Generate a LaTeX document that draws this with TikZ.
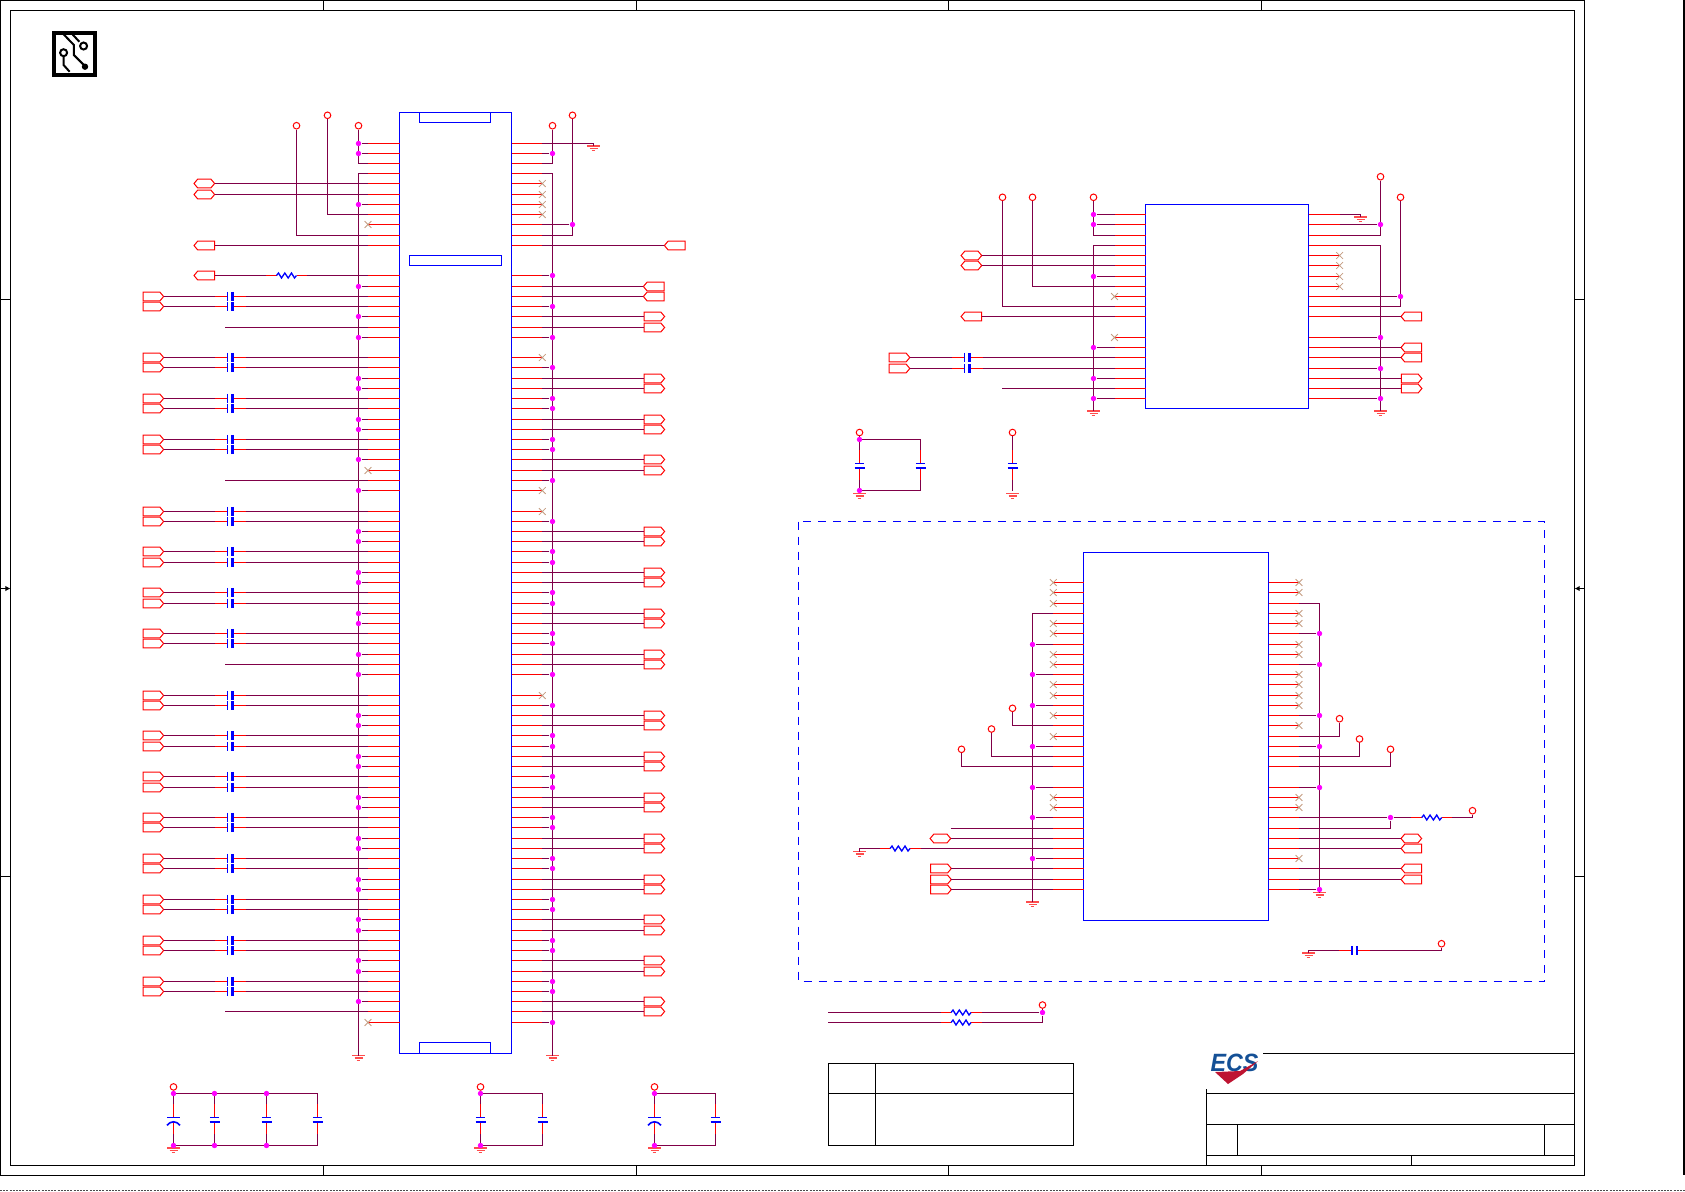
\documentclass[tikz,border=0pt]{standalone}
\usepackage{fontspec}
\setmainfont{Liberation Sans}
\usetikzlibrary{shapes.symbols,shapes.misc,calc,arrows.meta}

\definecolor{pinred}{RGB}{255,0,0}
\definecolor{wirepurple}{RGB}{128,0,72}
\definecolor{chipblue}{RGB}{0,0,255}
\definecolor{dotmagenta}{RGB}{255,0,255}
\definecolor{nctan}{RGB}{196,156,128}
\definecolor{logoblue}{RGB}{20,80,150}
\definecolor{logored}{RGB}{190,20,50}

\tikzstyle{pinline}=[draw=pinred, line width=0.55pt]
\tikzstyle{wire}=[draw=wirepurple, line width=0.55pt]
\tikzstyle{chipbox}=[draw=chipblue, line width=0.65pt]
\tikzstyle{sheetline}=[draw=black, line width=0.7pt]
\tikzstyle{junction}=[circle, fill=dotmagenta, inner sep=0pt, minimum size=2.7pt]
\tikzstyle{powerpin}=[circle, draw=pinred, fill=white, line width=0.5pt, inner sep=0pt, minimum size=3.3pt]
\tikzstyle{ncmark}=[cross out, draw=nctan, line width=0.4pt, inner sep=0pt, minimum size=3pt]
\tikzstyle{tagbase}=[signal, draw=pinred, line width=0.5pt, inner sep=0pt, outer sep=0pt, minimum width=10.3pt, minimum height=4.3pt, signal pointer angle=100]
\tikzstyle{tagright}=[tagbase, signal to=east, anchor=west]
\tikzstyle{tagleft}=[tagbase, signal to=west, anchor=east]
\tikzstyle{taghex}=[tagbase, signal to=east and west, anchor=east]
\tikzstyle{arrowtick}=[draw=black, line width=0.7pt, -{Latex[length=2.6pt,width=2.8pt]}]

\tikzset{
  hcap/.pic={
    \draw[pinline] (-15.5,0) coordinate (-a) -- (-2.5,0) (3,0) -- (15.5,0) coordinate (-b);
    \draw[chipbox] (-2.5,-4.7) -- (-2.5,4.7);
    \draw[draw=chipblue, line width=1.1pt] (2.5,-4.7) -- (2.5,4.7);
  },
  vcap/.pic={
    \draw[pinline] (0,-16.3) coordinate (-a) -- (0,-2.3) (0,2.3) -- (0,14.6) coordinate (-b);
    \draw[chipbox] (-4.7,-2.3) -- (4.7,-2.3);
    \draw[draw=chipblue, line width=1.1pt] (-5,2.3) -- (5,2.3);
  },
  vpolar/.pic={
    \draw[pinline] (0,-16.3) coordinate (-a) -- (0,-2.3) (0,1.5) -- (0,14.6) coordinate (-b);
    \draw[chipbox] (-6.5,-2.3) -- (6.5,-2.3);
    \draw[draw=chipblue, line width=0.8pt] (-6.5,5.5) .. controls (-3,0.8) and (3,0.8) .. (6.5,5.5);
  },
  hres/.pic={
    \draw[pinline] (-20.5,0) coordinate (-a) -- (-10,0) (10,0) -- (20.5,0) coordinate (-b);
    \draw[chipbox] (-10,0) -- (-8,-2.5) -- (-5,2.5) -- (-1.7,-2.5) -- (1.7,2.5) -- (5,-2.5) -- (8,2.5) -- (10,0);
  },
  gnd/.pic={
    \coordinate (-t) at (0,0);
    \draw[draw=pinred!70, line width=0.6pt] (-6.5,0) -- (6.5,0) (-4,2.4) -- (4,2.4) (-1.8,4.8) -- (1.8,4.8);
  }
}

\newcommand{\slotrows}{0,1,2,3,4,5,6,7,8,9,10,13,14,15,16,17,18,19,21,22,23,24,25,26,27,28,29,30,31,32,33,34,36,37,38,39,40,41,42,43,44,45,46,47,48,49,50,51,52,54,55,56,57,58,59,60,61,62,63,64,65,66,67,68,69,70,71,72,73,74,75,76,77,78,79,80,81,82,83,84,85,86}
\newcommand{\bridgerows}{0,1,2,3,4,5,6,7,8,9,10,12,13,14,15,16,17,18}
\newcommand{\phyrows}{0,1,2,3,4,5,6,7,8,9,10,11,12,13,14,15,16,17,18,20,21,22,23,24,25,26,27,28,29,30}

% one column of pins on a chip
\newcommand{\pinrow}[5]{
  \foreach \k in #5 {
    \pgfmathsetmacro{\ypin}{floor(#4+10.222*\k)+0.5}
    \coordinate (#1\k) at (#3,\ypin);
    \draw[pinline] (#2,\ypin) -- (#1\k);
  }
}
\newcommand{\tapbus}[3]{
  \foreach \k in {#3} {
    \node[junction] (j#1\k) at (#1\k -| #2) {};
    \draw[wire] (#1\k) -- (j#1\k);
  }
}
\newcommand{\ncpins}[2]{
  \foreach \k in {#2} { \node[ncmark] (x#1\k) at (#1\k) {}; }
}
\newcommand{\capdrop}[5]{
  \pic (c#1) at ($(#2,#3)+(0,26.3)$) {#5};
  \coordinate (t#1) at (#2,#3);
  \coordinate (b#1) at (#2,#4);
  \draw[wire] (t#1) -- (c#1-a) (c#1-b) -- (b#1);
}

\begin{document}
\begin{tikzpicture}[x=0.5pt,y=-0.5pt]
\useasboundingbox (0,0) rectangle (1685,1191);

% sheet frame
\draw[sheetline] (0.5,0.5) rectangle (1584.5,1175.5);
\draw[sheetline] (10.5,10.5) rectangle (1574.5,1165.5);
\foreach \xt in {323.5,636.5,948.5,1261.5} {
  \draw[sheetline] (\xt,0.5) -- (\xt,10.5);
  \draw[sheetline] (\xt,1165.5) -- (\xt,1175.5);
}
\foreach \yt in {299.5,876.5} {
  \draw[sheetline] (0.5,\yt) -- (10.5,\yt);
  \draw[sheetline] (1574.5,\yt) -- (1584.5,\yt);
}
\draw[arrowtick] (0.5,588.5) -- (10.5,588.5);
\draw[arrowtick] (1584.5,588.5) -- (1574.5,588.5);
\draw[draw=black, line width=1pt] (1683.8,0) -- (1683.8,1175);
\draw[draw=black!70, line width=0.5pt, dash pattern=on 1pt off 0.6pt] (0,1190.5) -- (1685,1190.5);

% board mark
\draw[draw=black, line width=1.8pt] (53.7,32.9) rectangle (95.2,74.8);
\draw[draw=black, line width=1pt] (63.6,34.3) -- (73.9,45) -- (73.9,55) -- (84.6,65.7);
\fill[black] (85,66.7) circle (1.6pt);
\draw[draw=black, line width=1pt] (72.5,34.3) -- (79.3,41.7);
\draw[draw=black, line width=1pt] (83.6,46) circle (1.75pt);
\draw[draw=black, line width=1pt] (63.6,52.7) circle (1.75pt);
\draw[draw=black, line width=1pt] (63.6,56.5) -- (63.6,65) -- (69.6,71.7);

% slot connector
\draw[chipbox] (399.5,112.5) rectangle (511.5,1053.5);
\draw[chipbox] (419.5,112.5) rectangle (490.5,122.5);
\draw[chipbox] (409.5,255.5) rectangle (501.5,265.5);
\draw[chipbox] (419.5,1042.5) rectangle (490.5,1053.5);

\pinrow{Al}{399.5}{368}{143.1}{\slotrows}
\pinrow{Ar}{511.5}{542.3}{143.1}{\slotrows}

\coordinate (colTagL) at (214.6,0);
\coordinate (colDiff) at (143,0);
\coordinate (colCap) at (230,0);
\coordinate (colOpen) at (225,0);
\coordinate (colRes) at (286.5,0);
\coordinate (colTagRi) at (644,0);
\coordinate (colTagRo) at (664,0);

\node[powerpin] (vAl1) at (358.5,125.7) {};
\node[powerpin] (vAl2) at (327.5,115.3) {};
\node[powerpin] (vAl3) at (296.5,125.7) {};
\draw[wire] (vAl1) -- (Al2 -| vAl1) -- (Al2);
\draw[wire] (vAl2) |- (Al7);
\draw[wire] (vAl3) |- (Al9);
\tapbus{Al}{vAl1}{0,1}
\pic (gAl) at (358.5,1055.5) {gnd};
\draw[wire] (Al3) -- (Al3 -| gAl-t) -- (gAl-t);
\tapbus{Al}{gAl-t}{6,14,17,19,23,24,27,28,31,34,38,39,42,43,46,47,50,52,56,57,60,61,64,65,68,69,72,73,76,77,80,81,84}
\ncpins{Al}{8,32,86}
\foreach \k in {4,5} {
  \node[taghex] (tAl\k) at (Al\k -| colTagL) {};
  \draw[wire] (tAl\k.east) -- (Al\k);
}
\node[tagleft] (tAl10) at (Al10 -| colTagL) {};
\draw[wire] (tAl10.east) -- (Al10);
\node[tagleft] (tAl13) at (Al13 -| colTagL) {};
\pic (rAl13) at (Al13 -| colRes) {hres};
\draw[wire] (tAl13.east) -- (rAl13-a) (rAl13-b) -- (Al13);
\foreach \k in {18,33,51,85} {
  \coordinate (oAl\k) at (Al\k -| colOpen);
  \draw[wire] (oAl\k) -- (Al\k);
}
\foreach \s in {15,21,25,29,36,40,44,48,54,58,62,66,70,74,78,82} {
  \pgfmathtruncatemacro{\m}{\s+1}
  \foreach \k in {\s,\m} {
    \node[tagright] (tAl\k) at (Al\k -| colDiff) {};
    \pic (cAl\k) at (Al\k -| colCap) {hcap};
    \draw[wire] (tAl\k.east) -- (cAl\k-a) (cAl\k-b) -- (Al\k);
  }
}

\node[powerpin] (vAr1) at (552.5,125.7) {};
\node[powerpin] (vAr2) at (572.5,115.3) {};
\pic (gAr0) at (593.5,146) {gnd};
\draw[wire] (Ar0) -| (gAr0-t);
\draw[wire] (vAr1) -- (Ar2 -| vAr1) -- (Ar2);
\tapbus{Ar}{vAr1}{1}
\draw[wire] (vAr2) -- (Ar9 -| vAr2) -- (Ar9);
\tapbus{Ar}{vAr2}{8}
\pic (gAr) at (552.5,1055.5) {gnd};
\draw[wire] (Ar3) -- (Ar3 -| gAr-t) -- (gAr-t);
\tapbus{Ar}{gAr-t}{13,16,19,22,25,26,29,30,33,37,40,41,44,45,48,49,52,55,58,59,62,63,66,67,70,71,74,75,78,79,82,83,86}
\ncpins{Ar}{4,5,6,7,21,34,36,54}
\coordinate (colTagFar) at (685,0);
\node[tagleft] (tAr10) at (Ar10 -| colTagFar) {};
\draw[wire] (Ar10) -- (tAr10.west);
\foreach \k in {14,15} {
  \node[tagleft] (tAr\k) at (Ar\k -| colTagRo) {};
  \draw[wire] (Ar\k) -- (tAr\k.west);
}
\foreach \s in {17,23,27,31,38,42,46,50,56,60,64,68,72,76,80,84} {
  \pgfmathtruncatemacro{\m}{\s+1}
  \foreach \k in {\s,\m} {
    \node[tagright] (tAr\k) at (Ar\k -| colTagRi) {};
    \draw[wire] (Ar\k) -- (tAr\k.west);
  }
}

% slot decoupling
\capdrop{D1}{173.5}{1093.5}{1145.5}{vpolar}
\capdrop{D2}{214.5}{1093.5}{1145.5}{vcap}
\capdrop{D3}{266.5}{1093.5}{1145.5}{vcap}
\capdrop{D4}{317.5}{1093.5}{1145.5}{vcap}
\capdrop{D5}{480.5}{1093.5}{1145.5}{vcap}
\capdrop{D6}{542.5}{1093.5}{1145.5}{vcap}
\capdrop{D7}{654.5}{1093.5}{1145.5}{vpolar}
\capdrop{D8}{715.5}{1093.5}{1145.5}{vcap}
\foreach \a/\b in {D1/D4,D5/D6,D7/D8} {
  \draw[wire] (t\a) -- (t\b) (b\a) -- (b\b);
  \node[powerpin] (v\a) at ($(t\a)+(0,-6.6)$) {};
  \draw[wire] (v\a) -- (t\a);
  \pic (g\a) at ($(b\a)+(0,2.5)$) {gnd};
}
\foreach \a in {D1,D2,D3,D5,D7} {
  \node[junction] (jt\a) at (t\a) {};
  \node[junction] (jb\a) at (b\a) {};
}

% second chip
\draw[chipbox] (1145.5,204.5) rectangle (1308.5,408.5);
\pinrow{Bl}{1145.5}{1114.5}{214.7}{\bridgerows}
\pinrow{Br}{1308.5}{1339.6}{214.7}{\bridgerows}

\coordinate (colBhex) at (981.7,0);
\coordinate (colBdiff) at (889.2,0);
\coordinate (colBcap) at (967,0);
\coordinate (colBtagi) at (1401.3,0);
\coordinate (colBtago) at (1421.6,0);

\node[powerpin] (vBl1) at (1093.5,197.3) {};
\node[powerpin] (vBl2) at (1032.5,197.3) {};
\node[powerpin] (vBl3) at (1002.5,197.3) {};
\draw[wire] (vBl1) -- (Bl2 -| vBl1) -- (Bl2);
\tapbus{Bl}{vBl1}{0,1}
\draw[wire] (vBl2) |- (Bl7);
\draw[wire] (vBl3) |- (Bl9);
\pic (gBl) at (1093.5,411) {gnd};
\draw[wire] (Bl3) -- (Bl3 -| gBl-t) -- (gBl-t);
\tapbus{Bl}{gBl-t}{6,13,16,18}
\ncpins{Bl}{8,12}
\foreach \k in {4,5} {
  \node[taghex] (tBl\k) at (Bl\k -| colBhex) {};
  \draw[wire] (tBl\k.east) -- (Bl\k);
}
\node[tagleft] (tBl10) at (Bl10 -| colBhex) {};
\draw[wire] (tBl10.east) -- (Bl10);
\foreach \k in {14,15} {
  \node[tagright] (tBl\k) at (Bl\k -| colBdiff) {};
  \pic (cBl\k) at (Bl\k -| colBcap) {hcap};
  \draw[wire] (tBl\k.east) -- (cBl\k-a) (cBl\k-b) -- (Bl\k);
}
\coordinate (oBl17) at (1002,0);
\draw[wire] (Bl17 -| oBl17) -- (Bl17);

\node[powerpin] (vBr1) at (1380.5,176.7) {};
\node[powerpin] (vBr2) at (1400.5,197.3) {};
\pic (gBr0) at (1360.5,217) {gnd};
\draw[wire] (Br0) -| (gBr0-t);
\draw[wire] (vBr1) -- (Br2 -| vBr1) -- (Br2);
\tapbus{Br}{vBr1}{1}
\draw[wire] (vBr2) -- (Br9 -| vBr2) -- (Br9);
\tapbus{Br}{vBr2}{8}
\pic (gBr) at (1380.5,411) {gnd};
\draw[wire] (Br3) -- (Br3 -| gBr-t) -- (gBr-t);
\tapbus{Br}{gBr-t}{12,15,18}
\ncpins{Br}{4,5,6,7}
\foreach \k in {10,13,14} {
  \node[tagleft] (tBr\k) at (Br\k -| colBtago) {};
  \draw[wire] (Br\k) -- (tBr\k.west);
}
\foreach \k in {16,17} {
  \node[tagright] (tBr\k) at (Br\k -| colBtagi) {};
  \draw[wire] (Br\k) -- (tBr\k.west);
}

% second chip decoupling
\capdrop{E1}{859.5}{439.5}{490.5}{vcap}
\capdrop{E2}{920.5}{439.5}{490.5}{vcap}
\capdrop{E3}{1012.5}{439.5}{490.5}{vcap}
\draw[wire] (tE1) -- (tE2) (bE1) -- (bE2);
\foreach \a in {E1,E3} {
  \node[powerpin] (v\a) at ($(t\a)+(0,-7)$) {};
  \draw[wire] (v\a) -- (t\a);
  \pic (g\a) at ($(b\a)+(0,3)$) {gnd};
}
\node[junction] (jtE1) at (tE1) {};
\node[junction] (jbE1) at (bE1) {};

% optional block
\draw[draw=chipblue, line width=0.6pt, dash pattern=on 4pt off 3.5pt] (798.5,521.5) rectangle (1544.5,981.5);
\draw[chipbox] (1083.5,552.5) rectangle (1268.5,920.5);
\pinrow{Cl}{1083.5}{1053.3}{582.75}{\phyrows}
\pinrow{Cr}{1268.5}{1299}{582.75}{\phyrows}

\coordinate (colCtagr) at (930.7,0);
\coordinate (colCtagh) at (950.7,0);
\coordinate (colCres) at (900,0);
\coordinate (colCgnd) at (859.5,0);
\coordinate (colCrhi) at (1421.7,0);
\coordinate (colCrres) at (1431.7,0);
\coordinate (colCrhex) at (1401,0);

\node[powerpin] (vCl1) at (1012.5,708.3) {};
\node[powerpin] (vCl2) at (991.5,729) {};
\node[powerpin] (vCl3) at (961.5,749.3) {};
\draw[wire] (vCl1) |- (Cl14);
\draw[wire] (vCl2) |- (Cl17);
\draw[wire] (vCl3) |- (Cl18);
\pic (gCl) at (1032.5,902) {gnd};
\draw[wire] (Cl3) -- (Cl3 -| gCl-t) -- (gCl-t);
\tapbus{Cl}{gCl-t}{6,9,12,16,20,23,27}
\ncpins{Cl}{0,1,2,4,5,7,8,10,11,13,15,21,22}
\draw[wire] (Cl24 -| colCtagh) -- (Cl24);
\node[taghex] (tCl25) at (Cl25 -| colCtagh) {};
\draw[wire] (tCl25.east) -- (Cl25);
\pic (rCl26) at (Cl26 -| colCres) {hres};
\pic (gCl26) at ($(Cl26 -| colCgnd)+(0,3)$) {gnd};
\draw[wire] (gCl26-t) |- (rCl26-a);
\draw[wire] (rCl26-b) -- (Cl26);
\foreach \k in {28,29,30} {
  \node[tagright] (tCl\k) at (Cl\k -| colCtagr) {};
  \draw[wire] (tCl\k.east) -- (Cl\k);
}

\node[powerpin] (vCr1) at (1339.5,718.7) {};
\node[powerpin] (vCr2) at (1359.5,739) {};
\node[powerpin] (vCr3) at (1390.5,749.3) {};
\node[powerpin] (vCr4) at (1472.5,810.7) {};
\draw[wire] (vCr1) |- (Cr15);
\draw[wire] (vCr2) |- (Cr17);
\draw[wire] (vCr3) |- (Cr18);
\pic (gCr) at (1319.5,892.5) {gnd};
\draw[wire] (Cr2) -- (Cr2 -| gCr-t) -- (gCr-t);
\tapbus{Cr}{gCr-t}{5,8,13,16,20,30}
\ncpins{Cr}{0,1,3,4,6,7,9,10,11,12,14,21,22,27}
\node[junction] (jCr23) at (Cr23 -| vCr3) {};
\pic (rCr23) at (Cr23 -| colCrres) {hres};
\draw[wire] (Cr23) -- (jCr23) -- (rCr23-a);
\draw[wire] (rCr23-b) -| (vCr4);
\draw[wire] (Cr24) -| (jCr23);
\node[taghex, anchor=west] (tCr25) at (Cr25 -| colCrhex) {};
\draw[wire] (Cr25) -- (tCr25.west);
\foreach \k in {26,28,29} {
  \node[tagleft] (tCr\k) at (Cr\k -| colCrhi) {};
  \draw[wire] (Cr\k) -- (tCr\k.west);
}

\pic (gCf) at (1308.5,953) {gnd};
\pic (cCf) at (1354.5,950.5) {hcap};
\node[powerpin] (vCf) at (1441.5,943.7) {};
\draw[wire] (gCf-t) |- (cCf-a);
\draw[wire] (cCf-b) -| (vCf);

% pull-ups under the block
\coordinate (pu1) at (828.2,1012.5);
\coordinate (pu2) at (828.2,1022.5);
\node[powerpin] (vPu) at (1042.5,1005) {};
\node[junction] (jPu) at (1042.5,1012.5) {};
\pic (rPu1) at (961,1012.5) {hres};
\pic (rPu2) at (961,1022.5) {hres};
\draw[wire] (pu1) -- (rPu1-a) (rPu1-b) -- (jPu);
\draw[wire] (pu2) -- (rPu2-a) (rPu2-b) -| (jPu) -- (vPu);

% note table
\draw[sheetline] (828.5,1063.5) rectangle (1073.5,1145.5);
\draw[sheetline] (828.5,1093.5) -- (1073.5,1093.5);
\draw[sheetline] (875.5,1063.5) -- (875.5,1145.5);

% title block
\draw[sheetline] (1263,1053.5) -- (1574.5,1053.5);
\draw[sheetline] (1206.5,1093.5) -- (1574.5,1093.5);
\draw[sheetline] (1206.5,1124.5) -- (1574.5,1124.5);
\draw[sheetline] (1206.5,1155.5) -- (1574.5,1155.5);
\draw[sheetline] (1206.5,1089) -- (1206.5,1165.5);
\draw[sheetline] (1237.5,1124.5) -- (1237.5,1155.5);
\draw[sheetline] (1544.5,1124.5) -- (1544.5,1155.5);
\draw[sheetline] (1411.5,1155.5) -- (1411.5,1165.5);

% company mark
\node[inner sep=0pt, text=logoblue, font=\bfseries\itshape\fontsize{12.5}{12.5}\selectfont] (logoText) at (1234.5,1063) {\scalebox{0.93}[1]{ECS}};
\fill[logored] (1215,1072) -- (1240,1071) -- (1258,1061) -- (1243,1074) -- (1228,1084) -- cycle;

\end{tikzpicture}
\end{document}
